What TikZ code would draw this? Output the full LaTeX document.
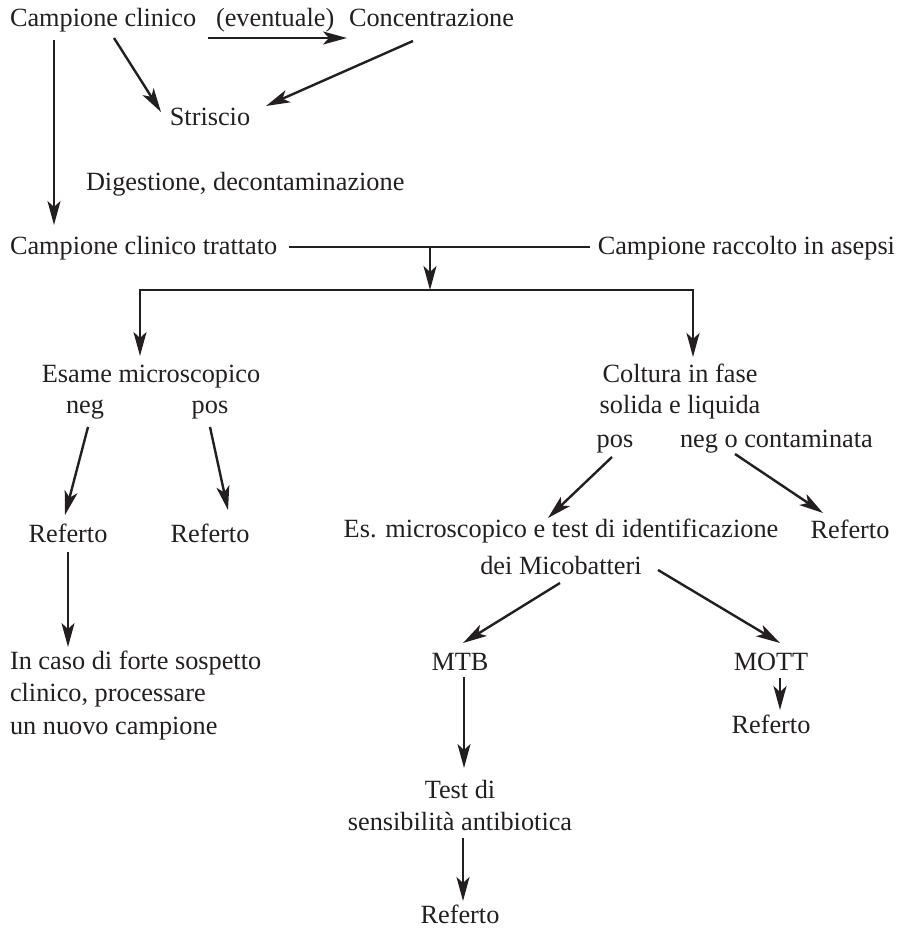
\documentclass[tikz,border=0pt]{standalone}
\usepackage{fontspec}
\setmainfont{Liberation Serif}
\usetikzlibrary{arrows.meta,calc}
\definecolor{ink}{RGB}{35,31,32}
\begin{document}
\begin{tikzpicture}[x=1pt,y=-1pt,
  t/.style={inner sep=0pt,outer sep=0pt,text=ink,font=\fontsize{26.3}{32}\selectfont},
  arr/.style={draw=ink,line width=2.4pt,-{Stealth[length=24pt,width=13pt,inset=6pt]}},
  ln/.style={draw=ink,line width=2.4pt}]
\useasboundingbox (0,0) rectangle (899,928);
% nodes
\node[t,anchor=base west] (cc) at (10,27) {Campione clinico};
\node[t,anchor=base west] (ev) at (216,27) {(eventuale)};
\node[t,anchor=base west] (conc) at (349,27) {Concentrazione};
\node[t,anchor=base] (str) at (210,126) {Striscio};
\node[t,anchor=base west] (dig) at (86,190) {Digestione, decontaminazione};
\node[t,anchor=base west] (ct) at (10,254) {Campione clinico trattato};
\node[t,anchor=base east] (cra) at (895,254) {Campione raccolto in asepsi};
\node[t,anchor=base] (esame) at (151,382) {Esame microscopico};
\node[t,anchor=base] (neg) at (85,413) {neg};
\node[t,anchor=base] (pos) at (210,413) {pos};
\node[t,anchor=base] (ref1) at (68,542) {Referto};
\node[t,anchor=base] (ref2) at (210,542) {Referto};
\node[t,anchor=base west,align=left,font=\fontsize{26.3}{32.5}\selectfont] (incaso) at (10,734) {In caso di forte sospetto\\clinico, processare\\un nuovo campione};
\node[t,anchor=base,align=center,font=\fontsize{26.3}{31}\selectfont] (coltura) at (680,413) {Coltura in fase\\solida e liquida};
\node[t,anchor=base] (posC) at (615,447) {pos};
\node[t,anchor=base west] (negC) at (680,447) {neg o contaminata};
\node[t,anchor=base,align=center,font=\fontsize{26.3}{37}\selectfont] (es) at (561,574) {Es. microscopico e test di identificazione\\dei Micobatteri};
\node[t,anchor=base] (ref3) at (850,538) {Referto};
\node[t,anchor=base] (mtb) at (460,670) {MTB};
\node[t,anchor=base] (mott) at (771,670) {MOTT};
\node[t,anchor=base] (ref4) at (771,733) {Referto};
\node[t,anchor=base,align=center] (test) at (460,830) {Test di\\sensibilità antibiotica};
\node[t,anchor=base] (ref5) at (460,923) {Referto};
% junctions
\coordinate (jn) at (430,247);
\coordinate (bar) at (430,290);
\coordinate (barL) at (140,290);
\coordinate (barR) at (693,290);
% connectors
\draw[arr] ($(ev.base west)+(-8,11)$) -- ($(conc.base west)+(-2,11)$);
\draw[arr] ($(cc.base west)+(104,11)$) -- ($(str.base)+(-49,-14)$);
\draw[arr] ($(conc.base west)+(64,14)$) -- ($(str.base)+(56,-20)$);
\draw[arr] ($(cc.base west)+(44,13)$) -- ($(ct.base west)+(44,-29)$);
\draw[ln] ($(ct.base east)+(12,-7)$) -- ($(cra.base west)+(-8,-7)$);
\draw[arr] (jn) -- (bar);
\draw[ln,line cap=rect] (barL) -- (barR);
\draw[arr] (barL) -- ($(esame.base)+(-11,-26)$);
\draw[arr] (barR) -- ($(coltura.base)+(13,-56)$);
\draw[arr] ($(neg.base)+(3,14)$) -- ($(ref1.base)+(-3,-27)$);
\draw[arr] ($(pos.base)+(0,14)$) -- ($(ref2.base)+(18,-32)$);
\draw[arr] ($(ref1.base)+(0,10)$) -- ($(incaso.base west)+(58,-87)$);
\draw[arr] ($(posC.base)+(-3,10)$) -- ($(es.base)+(-13,-56)$);
\draw[arr] ($(negC.base west)+(55,7)$) -- ($(ref3.base)+(-27,-25)$);
\draw[arr] ($(es.base)+(-1,9)$) -- ($(mtb.base)+(3,-27)$);
\draw[arr] ($(es.base)+(97,-4)$) -- ($(mott.base)+(9,-27)$);
\draw[arr] ($(mtb.base)+(4,7)$) -- ($(test.base)+(4,-62)$);
\draw[arr] ($(mott.base)+(9,8)$) -- ($(ref4.base)+(9,-23)$);
\draw[arr] ($(test.base)+(3,8)$) -- ($(ref5.base)+(3,-22)$);
\end{tikzpicture}
\end{document}
